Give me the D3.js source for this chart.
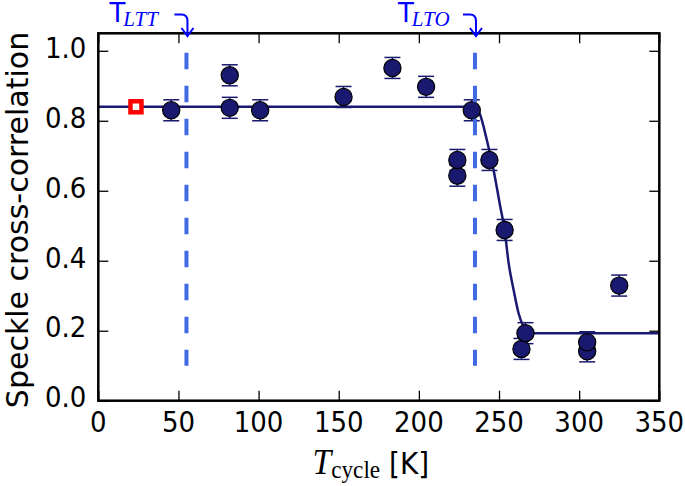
<!DOCTYPE html>
<html><head><meta charset="utf-8">
<script src="https://cdnjs.cloudflare.com/ajax/libs/d3/7.8.5/d3.min.js"></script>
<style>body{margin:0;background:#fff}svg{display:block}</style>
</head><body>
<svg id="c" width="685" height="486"></svg>
<script>
// ---- data ----
const cycleTemp = [45.5, 82, 82, 101, 153, 183.5, 204.5, 233, 224, 224, 244, 253.5, 264, 266.5, 305, 305, 325];
const correlation = [0.83, 0.93, 0.837, 0.83, 0.868, 0.951, 0.897, 0.83, 0.643, 0.688, 0.688, 0.488, 0.148, 0.193, 0.141, 0.167, 0.329];
const corrError = [0.03, 0.03, 0.03, 0.03, 0.03, 0.03, 0.03, 0.03, 0.03, 0.03, 0.03, 0.03, 0.03, 0.03, 0.03, 0.03, 0.03];
const refTemp = [23.5];
const refCorr = [0.84];
const fitTemp = [0, 235, 238, 242.4, 246.6, 250.8, 253.5, 256, 259.1, 262.2, 265.3, 268, 272, 350];
const fitCorr = [0.84, 0.84, 0.82, 0.745, 0.659, 0.554, 0.488, 0.393, 0.317, 0.25, 0.212, 0.197, 0.193, 0.193];
const markTemp = [55, 235];
const markLabel = ["LTT", "LTO"];
const xTicks = [0, 50, 100, 150, 200, 250, 300, 350];
const yTicks = [0.0, 0.2, 0.4, 0.6, 0.8, 1.0];

const svg = d3.select("#c");
const L = 98.3, R = 659.3, T = 33.3, B = 400.7;
const x = d3.scaleLinear().domain([0, 350]).range([L, R]);
const y = d3.scaleLinear().domain([0, 1.05]).range([B, T]);
const navy = "#191970";
const sx = 0.93;

// ticks (inside, all four sides)
const tk = 10;
svg.append("g").attr("transform", `translate(0,${B})`)
  .call(d3.axisBottom(x).tickValues(xTicks).tickSize(-tk).tickFormat(""))
  .call(g => g.select(".domain").remove());
svg.append("g").attr("transform", `translate(0,${T})`)
  .call(d3.axisTop(x).tickValues(xTicks).tickSize(-tk).tickFormat(""))
  .call(g => g.select(".domain").remove());
svg.append("g").attr("transform", `translate(${L},0)`)
  .call(d3.axisLeft(y).tickValues(yTicks).tickSize(-tk).tickFormat(""))
  .call(g => g.select(".domain").remove());
svg.append("g").attr("transform", `translate(${R},0)`)
  .call(d3.axisRight(y).tickValues(yTicks).tickSize(-tk).tickFormat(""))
  .call(g => g.select(".domain").remove());
svg.selectAll(".tick line").attr("stroke", "#000").attr("stroke-width", 1.3);

// tick labels
svg.append("g").selectAll("text").data(xTicks).join("text")
  .attr("transform", d => `translate(${x(d)},${B + 24}) scale(${sx},1)`)
  .attr("text-anchor", "middle").attr("dominant-baseline", "middle")
  .attr("font-family", "DejaVu Sans").attr("font-size", 28).attr("fill", "#000")
  .text(d => d);
svg.append("g").selectAll("text").data(yTicks).join("text")
  .attr("transform", d => `translate(${L - 12},${y(d) - 1})  scale(${sx},1)`)
  .attr("text-anchor", "end").attr("dominant-baseline", "middle")
  .attr("font-family", "DejaVu Sans").attr("font-size", 28).attr("fill", "#000")
  .text(d => d.toFixed(1));

// axis titles
svg.append("text")
  .attr("transform", `translate(28,${(T + B) / 2 + 3}) rotate(-90)`)
  .attr("text-anchor", "middle").attr("font-family", "DejaVu Sans").attr("font-size", 30)
  .text("Speckle cross-correlation");
const xl = svg.append("text")
  .attr("transform", `translate(${(L + R) / 2 - 8},${474}) scale(${sx},1)`)
  .attr("text-anchor", "middle").attr("font-size", 30);
xl.append("tspan").attr("font-family", "Liberation Serif").attr("font-style", "italic").attr("font-size", 36).text("T");
xl.append("tspan").attr("font-family", "Liberation Serif").attr("font-size", 25).attr("dy", 4).text("cycle");
xl.append("tspan").attr("font-family", "DejaVu Sans").attr("dy", -4).text(" [K]");

// fit line
svg.append("path")
  .datum(fitTemp.map((t, i) => [t, fitCorr[i]]))
  .attr("fill", "none").attr("stroke", navy).attr("stroke-width", 2.5)
  .attr("d", d3.line().x(d => x(d[0])).y(d => y(d[1])).curve(d3.curveMonotoneX));

// reference square
svg.append("g").selectAll("rect").data(refTemp).join("rect")
  .attr("x", d => x(d) - 5.5).attr("y", (d, i) => y(refCorr[i]) - 5.5)
  .attr("width", 11).attr("height", 11)
  .attr("fill", "#fff").attr("stroke", "#ff0000").attr("stroke-width", 4.5);

// error bars + markers
const pts = cycleTemp.map((t, i) => ({t, c: correlation[i], e: corrError[i]}));
const eb = svg.append("g").attr("stroke", navy).attr("stroke-width", 1.5);
pts.forEach(p => {
  eb.append("line").attr("x1", x(p.t)).attr("x2", x(p.t)).attr("y1", y(p.c - p.e)).attr("y2", y(p.c + p.e));
  [p.c - p.e, p.c + p.e].forEach(v =>
    eb.append("line").attr("x1", x(p.t) - 8).attr("x2", x(p.t) + 8).attr("y1", y(v)).attr("y2", y(v)));
});
svg.append("g").selectAll("circle").data(pts).join("circle")
  .attr("cx", d => x(d.t)).attr("cy", d => y(d.c)).attr("r", 8.6)
  .attr("fill", navy).attr("stroke", "#000").attr("stroke-width", 1.2);

// dashed transition lines
svg.append("g").selectAll("line").data(markTemp).join("line")
  .attr("x1", d => x(d)).attr("x2", d => x(d))
  .attr("y1", y(1.0) + 2).attr("y2", y(0.1))
  .attr("stroke", "#4169e1").attr("stroke-width", 4).attr("stroke-dasharray", "16.5,16.5");

// frame
svg.append("rect").attr("x", L).attr("y", T).attr("width", R - L).attr("height", B - T)
  .attr("fill", "none").attr("stroke", "#000").attr("stroke-width", 2.5);

// annotations
const blue = "#0000ff";
markTemp.forEach((m, i) => {
  const xm = x(m);
  const g = svg.append("g");
  const t = g.append("text")
    .attr("transform", `translate(${xm - 77},${22})`)
    .attr("fill", blue);
  t.append("tspan").attr("font-family", "DejaVu Sans").attr("font-size", 26).text("T");
  t.append("tspan").attr("font-family", "Liberation Serif").attr("font-style", "italic")
    .attr("font-size", 21).attr("dy", 4).attr("dx", -2).text(markLabel[i]);
  g.append("path")
    .attr("d", `M${xm - 12},14.5 H${xm - 5} Q${xm + 1},14.5 ${xm + 1},21 V36`)
    .attr("fill", "none").attr("stroke", blue).attr("stroke-width", 2);
  g.append("path")
    .attr("d", `M${xm - 5},28 L${xm + 1},36 L${xm + 7},28`)
    .attr("fill", "none").attr("stroke", blue).attr("stroke-width", 2);
});
</script>
</body></html>
